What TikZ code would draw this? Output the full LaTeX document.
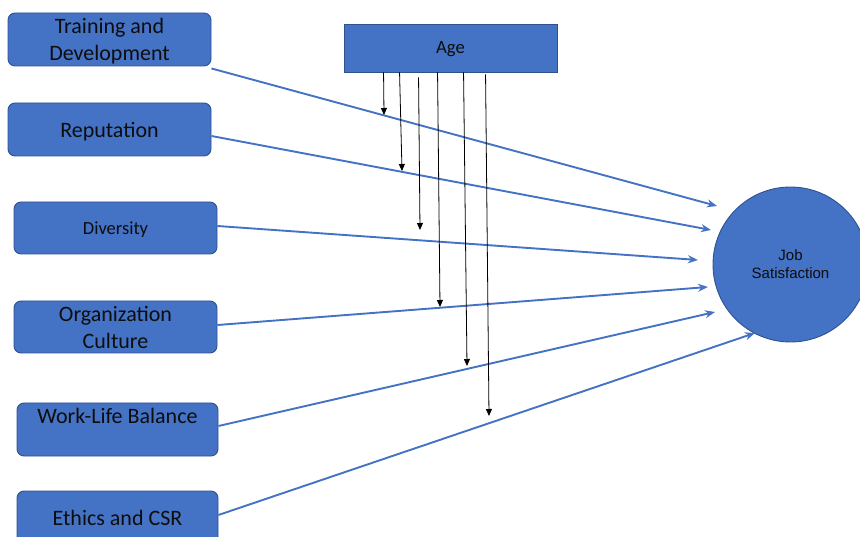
\documentclass[tikz,border=0pt]{standalone}
\usepackage{fontspec}
\setmainfont{Carlito}
\newfontfamily\arialfont{Liberation Sans}
\usetikzlibrary{arrows.meta,calc}
\definecolor{boxblue}{HTML}{4472C4}
\definecolor{edgeblue}{HTML}{2F528F}
\definecolor{lineblue}{HTML}{4472C4}
\definecolor{txt}{HTML}{0D0D0D}
\begin{document}
\begin{tikzpicture}[x=1pt,y=-1pt,
  factor/.style={draw=edgeblue, fill=boxblue, rounded corners=7pt, line width=0.9pt,
    minimum width=203pt, minimum height=53pt, inner sep=0pt, align=center,
    text depth=0pt, font=\fontsize{22}{27}\selectfont, text=txt},
  moderator/.style={draw=edgeblue, fill=boxblue, line width=0.9pt,
    minimum width=213pt, minimum height=48pt, inner sep=0pt, text depth=0pt,
    font=\fontsize{18.7}{22}\selectfont, text=txt},
  outcome/.style={circle, draw=edgeblue, fill=boxblue, line width=0.9pt,
    minimum size=155pt, inner sep=0pt, align=center,
    font=\arialfont\fontsize{15}{18}\selectfont, text=txt},
  effect/.style={draw=lineblue, line width=1.9pt, -{Stealth[length=10pt,width=8pt]}},
  modarrow/.style={draw=black, line width=0.8pt, -{Triangle[length=7pt,width=6pt]}}
]
\useasboundingbox (0,0) rectangle (860,537);
\clip (0,0) rectangle (860,537);

\node[factor] (train) at (109.5,39.5) {Training and\\Development};
\node[factor] (rep) at (109.5,129.5) {Reputation};
\node[factor, minimum height=52pt, font=\fontsize{18.5}{22}\selectfont] (div) at (115.5,228) {Diversity};
\node[factor, minimum height=52pt] (org) at (115.5,327) {Organization\\Culture};
\node[factor, minimum width=201pt] (wlb) at (117.5,429.5) {Work-Life Balance\\\strut};
\node[factor, minimum width=201pt] (eth) at (117.5,517.5) {Ethics and CSR};

\node[moderator] (age) at (450.5,48) {Age};
\node[outcome] (js) at (790.5,264.5) {Job\\Satisfaction};

% tips of the effect arrows
\coordinate (e1) at (717,206);
\coordinate (e2) at (711,230);
\coordinate (e3) at (698,260);
\coordinate (e4) at (708,287);
\coordinate (e5) at (715,312);
\coordinate (e6) at (755,333);

\draw[effect] ([yshift=-2pt]train.south east) -- (e1);
\draw[effect] ([yshift=-6.5pt]rep.east) -- (e2);
\draw[effect] ([yshift=2pt]div.east) -- (e3);
\draw[effect] ([yshift=2pt]org.east) -- (e4);
\draw[effect] ([yshift=3.5pt]wlb.east) -- (e5);
\draw[effect] ([yshift=2.5pt]eth.east) -- (e6);

% moderating arrows from Age
\coordinate (m1) at (384,115);
\coordinate (m2) at (402,171);
\coordinate (m3) at (420,230);
\coordinate (m4) at (440,307);
\coordinate (m5) at (467,366);
\coordinate (m6) at (489,416);

\draw[modarrow] ($(age.south west)+(40,0)$) -- (m1);
\draw[modarrow] ($(age.south west)+(56,0)$) -- (m2);
\draw[modarrow] ($(age.south west)+(75,5)$) -- (m3);
\draw[modarrow] ($(age.south west)+(94,0)$) -- (m4);
\draw[modarrow] ($(age.south west)+(120,0)$) -- (m5);
\draw[modarrow] ($(age.south west)+(142,2)$) -- (m6);
\end{tikzpicture}
\end{document}
